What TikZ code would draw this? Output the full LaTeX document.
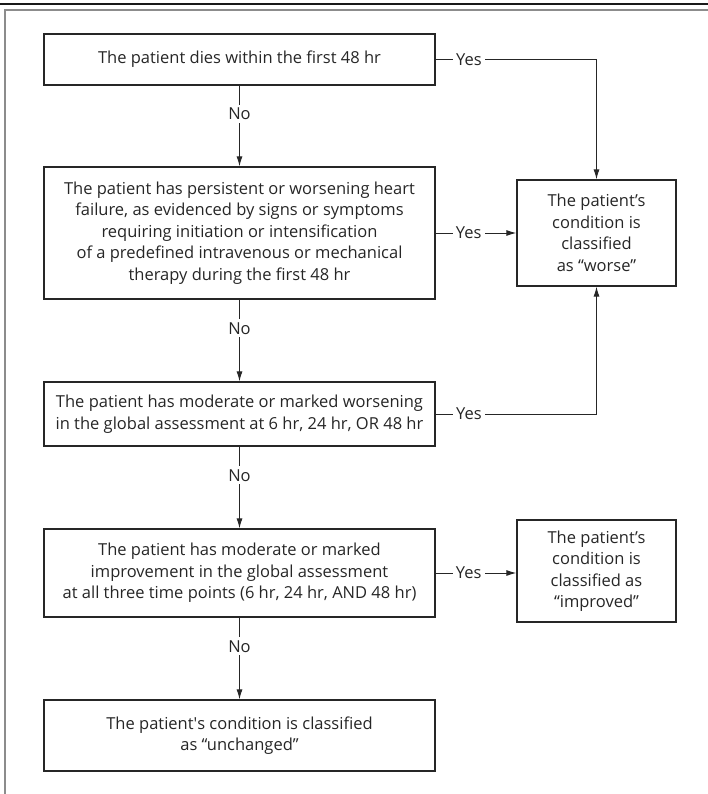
\documentclass[tikz,border=0pt]{standalone}
\usepackage{fontspec}
\setmainfont{Open Sans}
\newcommand{\straightq}{{\addfontfeatures{Ligatures=TeXOff}'}}
\usetikzlibrary{arrows.meta}
\begin{document}
\begin{tikzpicture}[x=1pt,y=-1pt,
  every node/.style={font=\fontsize{16.5}{21.5}\selectfont, text=black!85},
  flowbox/.style={draw=black!85, line width=1.3pt, align=center, inner sep=0pt, minimum width=391},
  sidebox/.style={draw=black!85, line width=1.3pt, align=center, inner sep=0pt, minimum width=159},
  conn/.style={draw=black!85, line width=1pt},
  arr/.style={conn, -{Latex[length=10pt,width=6pt]}},
  lbl/.style={fill=white, inner sep=3pt}]
\useasboundingbox (0,0) rectangle (708,794);
% frame
\draw[line width=1.5pt, black!90] (0,4) -- (708,4);
\draw[line width=2pt, black!45] (5,794) -- (5,10.5) -- (708,10.5);
% boxes
\node[flowbox, minimum height=51] (b1) at (239.5,59.5)
  {The patient dies within the first 48 hr};
\node[flowbox, minimum height=132] (b2) at (239.5,233)
  {The patient has persistent or worsening heart\\failure, as evidenced by signs or symptoms\\requiring initiation or intensification\\of a predefined intravenous or mechanical\\therapy during the first 48 hr};
\node[flowbox, minimum height=64] (b3) at (239.5,414)
  {The patient has moderate or marked worsening\\in the global assessment at 6 hr, 24 hr, OR 48 hr};
\node[flowbox, minimum height=88] (b4) at (239.5,573)
  {The patient has moderate or marked\\improvement in the global assessment\\at all three time points (6 hr, 24 hr, AND 48 hr)};
\node[flowbox, minimum height=71] (b5) at (239.5,735.5)
  {The patient\straightq s condition is classified\\as “unchanged”};
\node[sidebox, minimum height=106] (worse) at (596.5,233)
  {The patient’s\\condition is\\classified\\as “worse”};
\node[sidebox, minimum height=102] (impr) at (596.5,571)
  {The patient’s\\condition is\\classified as\\“improved”};
% No connectors
\draw[arr] (b1.south) -- node[lbl, pos=0.35]{No} (b2.north);
\draw[arr] (b2.south) -- node[lbl, pos=0.35]{No} (b3.north);
\draw[arr] (b3.south) -- node[lbl, pos=0.35]{No} (b4.north);
\draw[arr] (b4.south) -- node[lbl, pos=0.35]{No} (b5.north);
% Yes connectors
\draw[arr] (b1.east) -- node[lbl, pos=0.207]{Yes} (b1.east -| worse.north) -- (worse.north);
\draw[arr] (b2.east) -- node[lbl, pos=0.41]{Yes} (b2.east -| worse.west);
\draw[arr] (b3.east) -- node[lbl, pos=0.207]{Yes} (b3.east -| worse.south) -- (worse.south);
\draw[arr] (b4.east) -- node[lbl, pos=0.41]{Yes} (b4.east -| impr.west);
\end{tikzpicture}
\end{document}
